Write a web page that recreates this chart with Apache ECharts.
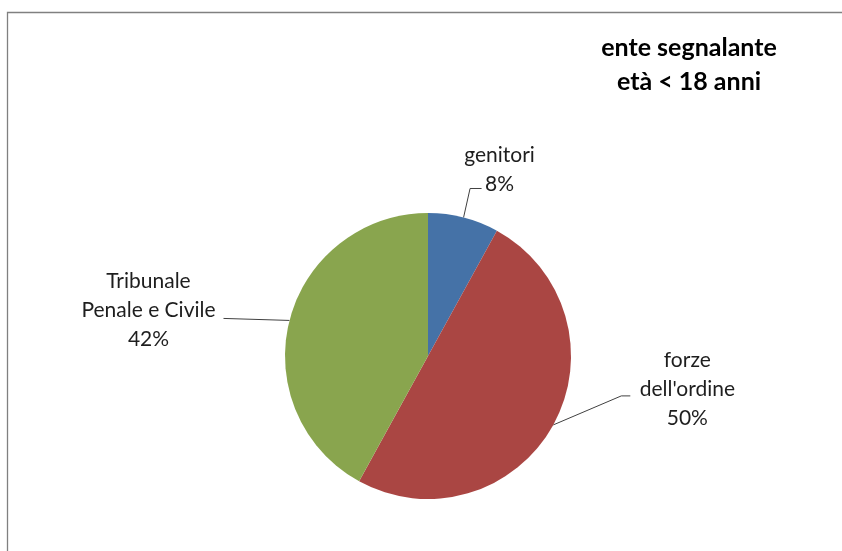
<!DOCTYPE html>
<html>
<head>
<meta charset="utf-8">
<script src="https://cdn.jsdelivr.net/npm/echarts@6/dist/echarts.min.js"></script>
<style>
  html, body { margin: 0; padding: 0; background: #fff; }
  #chart { width: 842px; height: 551px; }
</style>
</head>
<body>
<div id="chart"></div>
<script>
const categories = ['genitori', "forze\ndell'ordine", 'Tribunale\nPenale e Civile']
const percentages = [8, 50, 42]
const titleLines = ['ente segnalante', 'età < 18 anni']

const colors = ['#4572A7', '#AA4643', '#89A54E']
const fontFamily = 'Lato, "Open Sans", sans-serif'

// where each label sits, measured from the point where its leader leaves the slice
const labelPlacement = [
  { text: [36, -48], bend: [6.5, -29], end: [18, -29] },
  { text: [134, -36], bend: [68, -29], end: [77, -29] },
  { text: [-141, -10], bend: [-66, -2], end: [-66, -2] },
]

const chart = echarts.init(document.getElementById('chart'))

const option = {
  animation: false,
  color: colors,
  title: {
    text: titleLines.join('\n'),
    left: 689,
    top: 31,
    padding: 0,
    textAlign: 'center',
    textStyle: {
      fontFamily: fontFamily,
      fontSize: 25,
      fontWeight: 'bold',
      lineHeight: 34,
      color: '#000',
    },
  },
  graphic: [
    {
      type: 'rect',
      silent: true,
      shape: { x: 7.5, y: 12.5, width: 900, height: 600 },
      style: { fill: 'none', stroke: '#808080', lineWidth: 1.3 },
    },
  ],
  series: [
    {
      type: 'pie',
      center: [428, 356],
      radius: 143,
      startAngle: 90,
      clockwise: true,
      avoidLabelOverlap: false,
      itemStyle: { borderWidth: 0 },
      label: {
        show: true,
        position: 'outside',
        formatter: (p) => {
          return p.name.split('\n').concat(p.value + '%').map((s) => '{c|' + s + '}').join('\n')
        },
        rich: {
          c: {
            align: 'center',
            fontFamily: fontFamily,
            fontSize: 21,
            lineHeight: 29,
            color: '#1e1e1e',
          },
        },
      },
      labelLine: {
        show: true,
        length: 20,
        length2: 10,
        lineStyle: { color: '#404040', width: 1 },
      },
      labelLayout: (params) => {
        const pl = labelPlacement[params.dataIndex]
        const p0 = params.labelLinePoints[0]
        return {
          x: p0[0] + pl.text[0],
          y: p0[1] + pl.text[1],
          align: 'center',
          verticalAlign: 'middle',
          labelLinePoints: [
            [p0[0], p0[1]],
            [p0[0] + pl.bend[0], p0[1] + pl.bend[1]],
            [p0[0] + pl.end[0], p0[1] + pl.end[1]],
          ],
        }
      },
      emphasis: { disabled: true },
      data: categories.map((name, i) => ({ name: name, value: percentages[i] })),
    },
  ],
}

chart.setOption(option)
</script>
</body>
</html>
